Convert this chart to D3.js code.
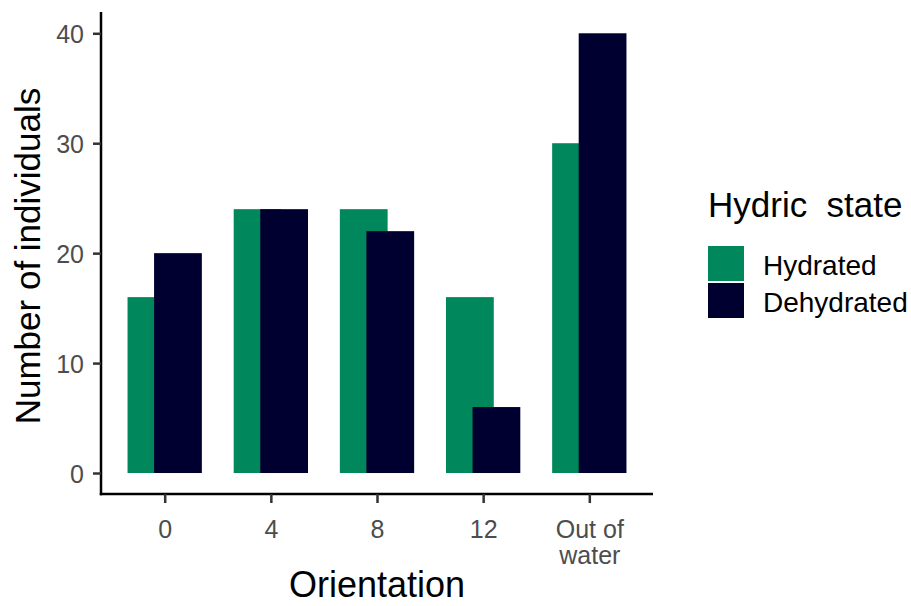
<!DOCTYPE html>
<html><head><meta charset="utf-8">
<script src="https://cdn.jsdelivr.net/npm/d3@7"></script>
<style>body{margin:0;background:#fff}svg{display:block;font-family:"Liberation Sans",Arial,sans-serif}</style>
</head><body>
<svg id="c" width="911" height="606"></svg>
<script>
const categories = ["0", "4", "8", "12", "Out of\nwater"];
const hydrated = [16, 24, 24, 16, 30];
const dehydrated = [20, 24, 22, 6, 40];
const seriesNames = ["Hydrated", "Dehydrated"];
const seriesColors = ["#00875B", "#000030"];
const yTicks = [0, 10, 20, 30, 40];

(function () {
const FONT = "Liberation Sans, Arial, sans-serif";
const svg = d3.select("#c");
const pL = 101, pR = 653, pT = 12, pB = 494;
const n = categories.length;
const x = d3.scaleLinear().domain([0.4, n + 0.6]).range([pL, pR]);
const y = d3.scaleLinear().domain([-2, 42]).range([495, 11.3]);
const barW = 0.45, dodge = 0.25;

const series = [hydrated, dehydrated];
series.forEach((vals, si) => {
  const off = (si === 0 ? -dodge / 2 : dodge / 2);
  svg.append("g").selectAll("rect").data(vals).join("rect")
    .attr("x", (d, i) => x(i + 1 + off - barW / 2))
    .attr("width", (d, i) => x(i + 1 + off + barW / 2) - x(i + 1 + off - barW / 2))
    .attr("y", d => y(d))
    .attr("height", d => y(0) - y(d))
    .attr("fill", seriesColors[si]);
});

// y axis
const ya = svg.append("g").attr("transform", `translate(${pL},0)`)
  .call(d3.axisLeft(y).tickValues(yTicks).tickSize(8).tickPadding(9).tickFormat(d3.format("d")));
ya.attr("font-family", FONT).attr("font-size", 25);
ya.select(".domain").attr("stroke", "#000").attr("stroke-width", 2.5).attr("d", `M0,${pT}V${pB + 1.2}`);
ya.selectAll(".tick line").attr("stroke", "#333").attr("stroke-width", 2.5);
ya.selectAll(".tick text").attr("fill", "#4D4D4D").attr("font-size", 25).attr("dy", "0.36em");

// x axis
const xa = svg.append("g").attr("transform", `translate(0,${pB})`)
  .call(d3.axisBottom(x).tickValues(d3.range(1, n + 1)).tickSize(9).tickFormat(() => ""));
xa.attr("font-family", FONT);
xa.select(".domain").attr("stroke", "#000").attr("stroke-width", 2.5).attr("d", `M${pL - 1.2},0H${pR}`);
xa.selectAll(".tick line").attr("stroke", "#333").attr("stroke-width", 2.5);
xa.selectAll(".tick").each(function(d, i) {
  const lines = categories[i].split("\n");
  const t = d3.select(this).append("text").attr("fill", "#4D4D4D").attr("font-size", 25)
    .attr("text-anchor", "middle").attr("font-family", FONT);
  lines.forEach((l, k) => t.append("tspan").attr("x", 0).attr("y", 44 + k * 25.5).text(l));
});

// axis titles
svg.append("text").attr("x", 377).attr("y", 597).attr("text-anchor", "middle")
  .attr("font-size", 36).attr("fill", "#000").text("Orientation");
svg.append("text").attr("transform", `translate(40,256) rotate(-90)`)
  .attr("text-anchor", "middle").attr("font-size", 35).attr("fill", "#000").text("Number of individuals");

// legend
const lg = svg.append("g").attr("transform", "translate(708,0)");
lg.append("text").attr("x", 0).attr("y", 217).attr("font-size", 35).attr("fill", "#000")
  .style("white-space", "pre").text("Hydric  state");
seriesNames.forEach((s, i) => {
  lg.append("rect").attr("x", 0).attr("y", 246 + i * 37).attr("width", 36).attr("height", 35)
    .attr("fill", seriesColors[i]);
  lg.append("text").attr("x", 55).attr("y", 264.5 + i * 37).attr("dy", "0.36em")
    .attr("font-size", 28).attr("fill", "#000").text(s);
});
})();
</script>
</body></html>
